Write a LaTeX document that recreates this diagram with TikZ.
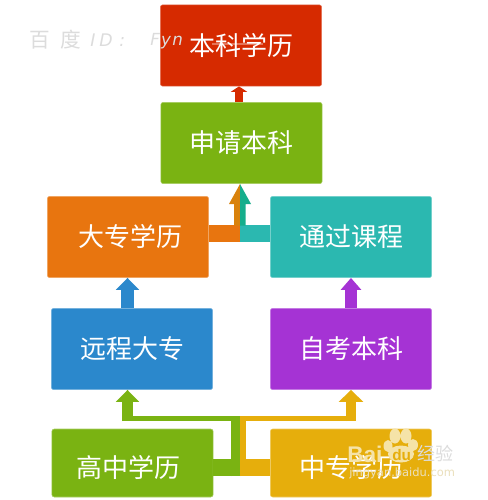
\documentclass[tikz,border=0pt]{standalone}
\usepackage{fontspec}
\setmainfont{Liberation Sans}
\newfontfamily\cjk{Noto Sans CJK SC}
\newfontfamily\lat{DejaVu Sans}
\usetikzlibrary{arrows.meta}
\definecolor{cred}{HTML}{D62A00}
\definecolor{cgreen}{HTML}{7AB312}
\definecolor{corange}{HTML}{E8750F}
\definecolor{cteal}{HTML}{2BB8B0}
\definecolor{cteald}{HTML}{15AE8C}
\definecolor{corangd}{HTML}{D9820C}
\definecolor{cblue}{HTML}{2B88CC}
\definecolor{cpurple}{HTML}{A533D4}
\definecolor{cyellow}{HTML}{E6AE0C}
\definecolor{wbeige}{HTML}{F5E3A8}
\definecolor{wgrey}{HTML}{DCDCDC}
\tikzset{
  stepbox/.style={fill=#1,draw=#1!65!white,line width=.4pt,rounded corners=1.8pt,
    minimum width=121pt,minimum height=61pt,inner sep=0pt,text=white,
    font=\cjk\fontsize{19.5pt}{22pt}\selectfont},
  bar/.style={draw=#1,line cap=butt},
  wm/.style={text=wgrey,anchor=west,inner sep=0pt},
}
\begin{document}
\begin{tikzpicture}[x=.75pt,y=-.75pt]
\useasboundingbox (0,0) rectangle (487,500);
\fill[white] (0,0) rectangle (487,500);
\coordinate (tipA) at (240,184);
\coordinate (gj) at (235.5,467.5);
\coordinate (yj) at (243,467.5);
\coordinate (oj) at (237,233.5);
\coordinate (tj) at (243,233.5);
% boxes
\node[stepbox=cred]    (bkxl) at (241,45.5)  {本科学历};
\node[stepbox=cgreen]  (sqbk) at (241.5,143) {申请本科};
\node[stepbox=corange] (dzxl) at (128,237)   {\hspace{4pt}大专学历};
\node[stepbox=cteal]   (tgkc) at (351,237)   {通过课程};
\node[stepbox=cblue]   (ycdz) at (132,349)   {远程大专};
\node[stepbox=cpurple] (zkbk) at (351,349)   {自考本科};
\node[stepbox=cgreen,minimum height=51pt]  (gzxl) at (132.5,463) {\raisebox{-11pt}[0pt][0pt]{\hspace{-6pt}高中学历}};
\node[stepbox=cyellow,minimum height=51pt] (zzxl) at (351,463)   {\raisebox{-11pt}[0pt][0pt]{中专学历}};
% simple arrows
\draw[cred,line width=6pt,-{Triangle[length=4pt,width=12pt]}] (239,102) -- (bkxl.south -| 239,0);
\draw[cblue,line width=9.5pt,-{Triangle[length=9pt,width=17pt]}] (ycdz.north -| 127.5,0) -- (dzxl.south -| 127.5,0);
\draw[cpurple,line width=9pt,-{Triangle[length=9pt,width=15pt]}] (zkbk.north) -- (tgkc.south);
% green route
\draw[bar=cgreen,line width=12.75pt] (gzxl.east |- gj) -- (240,467.5);
\draw[bar=cgreen,line width=6.75pt] (235.5,476) -- (235.5,416);
\draw[bar=cgreen,line width=3.75pt] (240,418.5) -- (122,418.5);
\draw[cgreen,line width=8.25pt,-{Triangle[length=9pt,width=17pt]}] (127.5,421) -- (ycdz.south -| 127.5,0);
% yellow route
\draw[bar=cyellow,line width=12.75pt] (zzxl.west |- yj) -- (240,467.5);
\draw[bar=cyellow,line width=4.5pt] (243,476) -- (243,416);
\draw[bar=cyellow,line width=3.75pt] (240,418.5) -- (356,418.5);
\draw[cyellow,line width=7.5pt,-{Triangle[length=9pt,width=18pt]}] (351,421) -- (zkbk.south -| 351,0);
% orange and teal routes meeting under the green box
\draw[bar=corange,line width=12.75pt] (dzxl.east |- oj) -- (240,233.5);
\draw[bar=cteal,line width=12.75pt] (tgkc.west |- tj) -- (240,233.5);
\fill[corangd] (tipA) -- (229,204) -- (234,204) -- (234,225.5) -- (240,225.5) -- cycle;
\fill[cteald] (tipA) -- (251,204) -- (245.5,204) -- (245.5,225.5) -- (240,225.5) -- cycle;
% watermark, top
\node[wm,font=\cjk\fontsize{15.5pt}{17pt}\selectfont] (wma) at (29,40) {百\hspace{8pt}度};
\node[wm,font=\lat\itshape\fontsize{13pt}{15pt}\selectfont] (wmb) at (90,40) {I\hspace{3pt}D\hspace{5pt}:};
\node[wm,font=\lat\itshape\fontsize{12.5pt}{15pt}\selectfont] (wmc) at (150,41) {F\hspace{1pt}y\hspace{1pt}n};
\draw[white,opacity=.35,line width=1.1pt] (212,44) -- (263,44);
% watermark, logo
\fill[wbeige] (395,436) ellipse (5.5 and 7.5) (406,436) ellipse (5.5 and 7.5)
  (388,446) ellipse (4.5 and 6) (413,445) ellipse (5 and 6)
  (401,454) ellipse (13 and 8.5);
\node[wm,font=\bfseries\fontsize{17pt}{19pt}\selectfont,text=wbeige] (wmd) at (347,454) {Bai};
\node[wm,font=\bfseries\fontsize{11.5pt}{13pt}\selectfont,text=cyellow] (wme) at (392,455) {du};
\node[wm,font=\cjk\fontsize{13.5pt}{15pt}\selectfont] (wmf) at (417,454) {经验};
\node[wm,font=\lat\fontsize{8.6pt}{10pt}\selectfont,text=wbeige!60!wgrey] (wmg) at (349,473) {jingyan.baidu.com};
\end{tikzpicture}
\end{document}
